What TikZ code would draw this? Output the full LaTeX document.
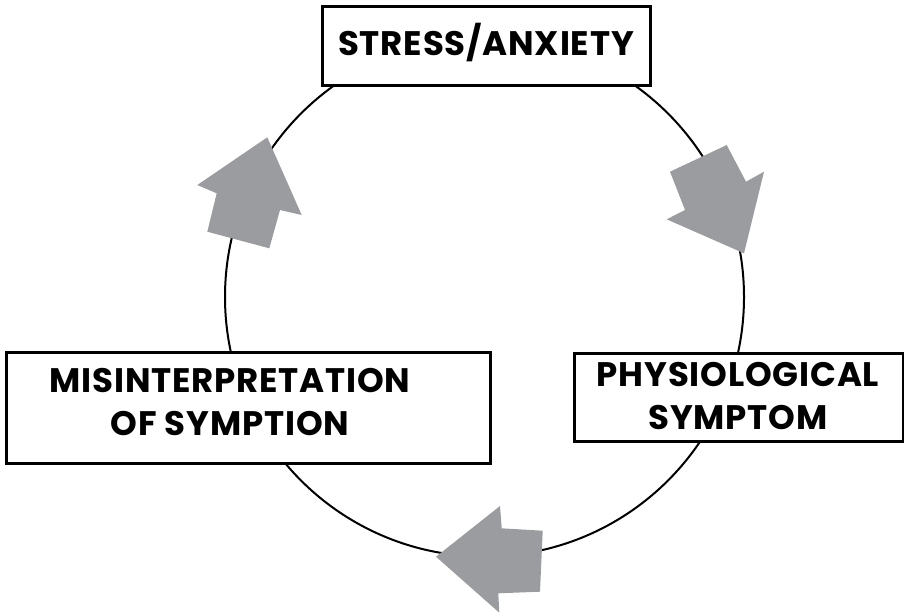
\documentclass[tikz,border=0pt]{standalone}
\usepackage{fontspec}
\setmainfont{Poppins}[LetterSpace=2.4]
\begin{document}
\definecolor{arrowgray}{RGB}{155,156,160}
\begin{tikzpicture}[x=1pt,y=-1pt,
  box/.style={draw=black,line width=3pt,fill=white,inner sep=0pt},
  lbl/.style={font=\fontsize{34}{43}\selectfont\bfseries,align=center,inner sep=0pt},
  blockarrow/.style={fill=arrowgray,draw=none},
  ring/.style={draw=black,line width=2pt}]
\useasboundingbox (0,0) rectangle (904,614);
% the cycle itself
\draw[ring] (484.5,297) circle[radius=259.5];
% the three stages (anchor=base is the baseline of the last line)
\node[box,minimum width=328,minimum height=79] (stress) at (486,45.5) {};
\node[lbl,anchor=base] (stresstxt) at (486,55) {STRESS/ANXIETY};
\node[box,minimum width=329,minimum height=88] (phys) at (738.5,397) {};
\node[lbl,anchor=base] (phystxt) at (738,429) {PHYSIOLOGICAL\\SYMPTOM};
\node[box,minimum width=484,minimum height=111] (mis) at (248,407.5) {};
\node[lbl,anchor=base] (mistxt) at (230,435) {MISINTERPRETATION\\OF SYMPTION};
% direction arrows along the ring
\fill[blockarrow] (670,171.7) -- (726.7,145) -- (746,181.7) -- (764,171.7)
  -- (744,253.3) -- (666.7,219.3) -- (685,210) -- cycle;
\fill[blockarrow] (436,556.7) -- (500,506) -- (501.7,528.3) -- (542.7,530.7)
  -- (540,591.7) -- (498.3,593.3) -- (499.3,612.7) -- cycle;
\fill[blockarrow] (267.3,137.3) -- (301.7,215) -- (280,210) -- (269.3,248.3)
  -- (207.3,231.7) -- (216.7,193.3) -- (197.3,185) -- cycle;
\end{tikzpicture}
\end{document}
